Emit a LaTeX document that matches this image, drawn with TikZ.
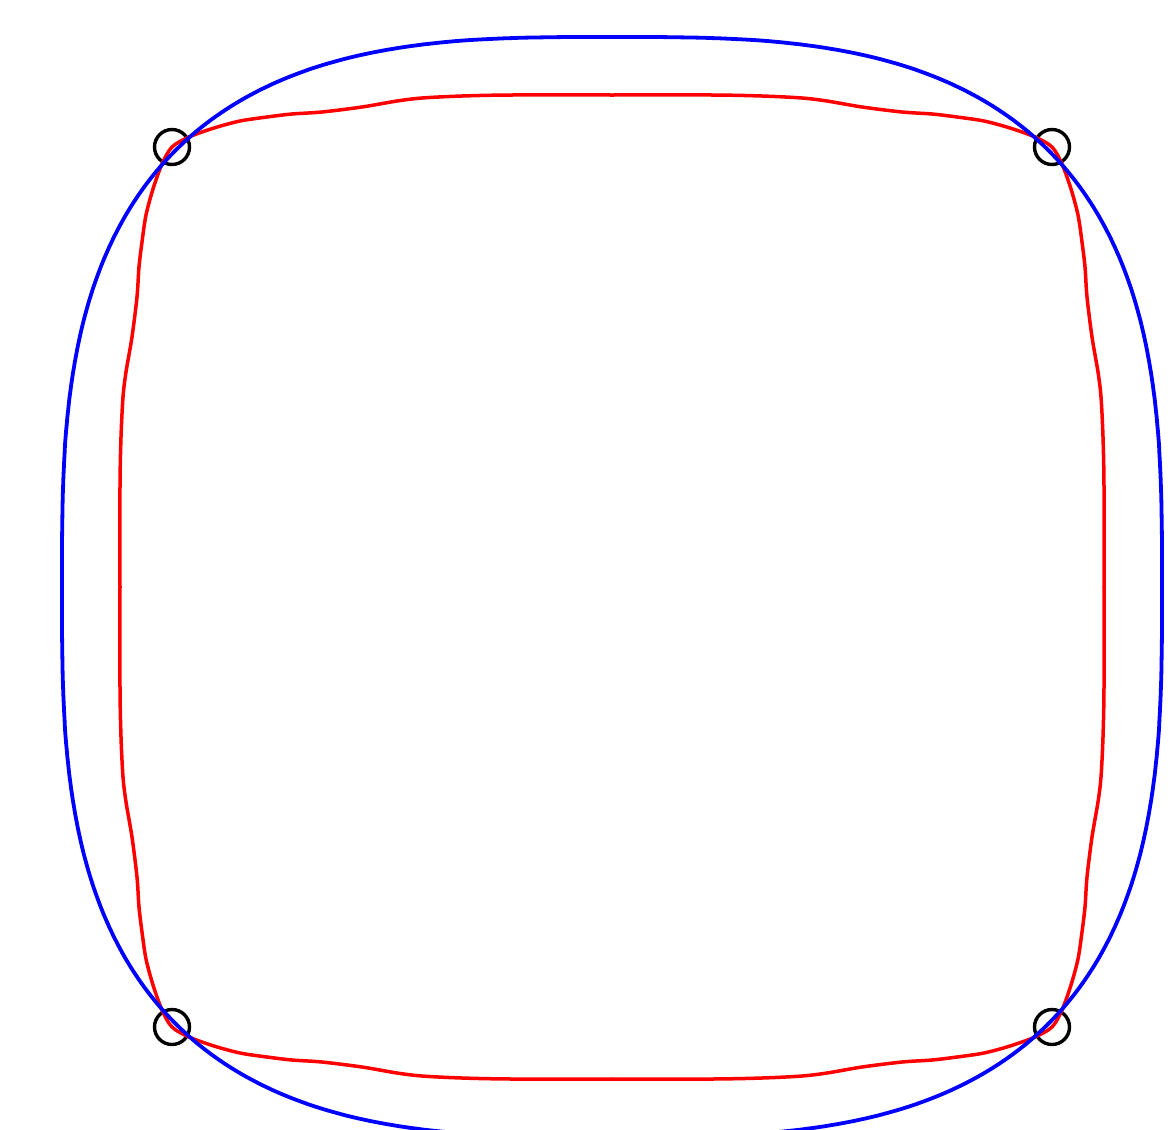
\documentclass[tikz,border=0pt]{standalone}
\begin{document}
\begin{tikzpicture}[x=1pt,y=-1pt,line join=round,line cap=round]
\tikzset{
  cornermark/.style={circle,draw=black,line width=3.4pt,minimum size=35pt,inner sep=0pt},
  redcurve/.style={draw={rgb,255:red,255;green,0;blue,0},line width=3.5pt},
  bluecurve/.style={draw={rgb,255:red,0;green,0;blue,255},line width=3.8pt}
}
\useasboundingbox (0,0) rectangle (1173,1130);
\clip (0,0) rectangle (1173,1130);
% corner markers
\node[cornermark] (tl) at (172,147) {};
\node[cornermark] (tr) at (1052,147) {};
\node[cornermark] (bl) at (172,1027) {};
\node[cornermark] (br) at (1052,1027) {};
% red curve, drawn quadrant by quadrant
\foreach \sx in {1,-1}{
  \foreach \sy in {1,-1}{
    \begin{scope}[shift={(612,587)},xscale=\sx,yscale=\sy]
      \draw[redcurve] plot[smooth,tension=0.5] coordinates {
        (0,-492) (-100,-492) (-150,-491) (-190,-489) (-215,-486) (-250,-480)
        (-290,-475) (-320,-473) (-345,-470) (-372,-466) (-398,-459) (-423,-450)
        (-440,-440)
        (-450,-423) (-459,-398) (-466,-372) (-470,-345) (-473,-320) (-475,-290)
        (-480,-250) (-486,-215) (-489,-190) (-491,-150) (-492,-100) (-492,0)};
    \end{scope}
  }
}
% blue curve (superellipse), quadrant by quadrant
\foreach \sx in {1,-1}{
  \foreach \sy in {1,-1}{
    \begin{scope}[shift={(612,587)},xscale=\sx,yscale=\sy]
      \draw[bluecurve] (0,-550) -- plot[domain=89.8:0.2,samples=150]
        ({-550*cos(\x)^(0.667)},{-550*sin(\x)^(0.667)}) -- (-550,0);
    \end{scope}
  }
}
\end{tikzpicture}
\end{document}
